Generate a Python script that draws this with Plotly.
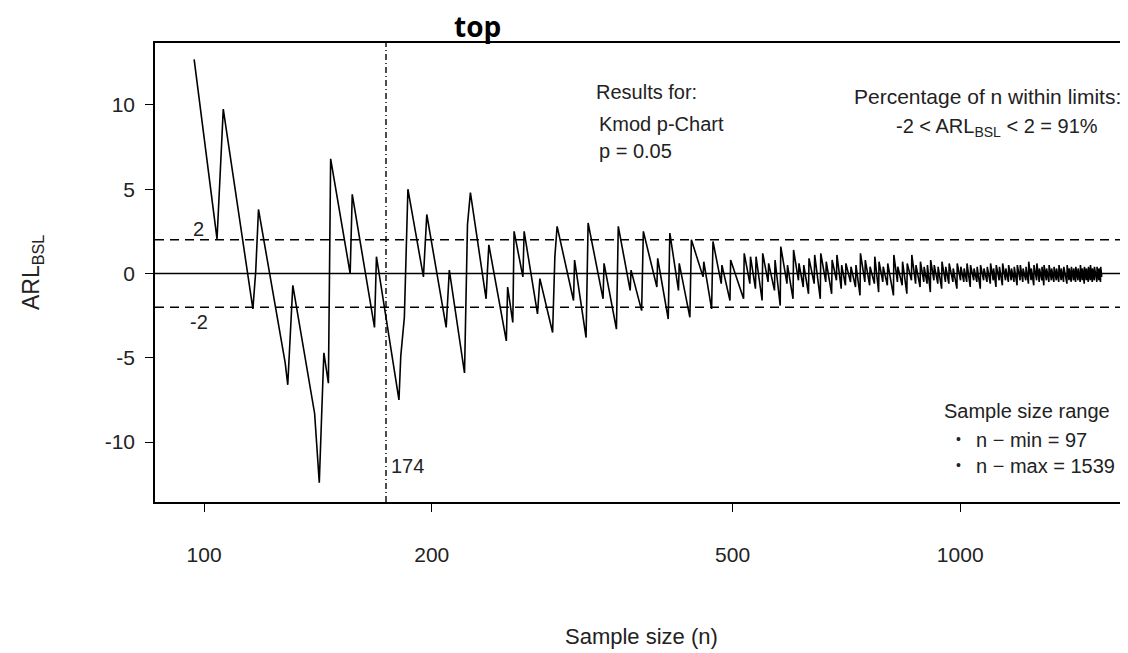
import math
import plotly.graph_objects as go

# ---- data ----
# early part: explicit vertices of the sawtooth (sample size n, ARL_BSL)
early_n = [97, 104, 105, 106, 116, 117, 118, 128, 129, 131, 140, 142, 143, 144, 146, 147,
           156, 157, 168, 169, 181, 182, 184, 185, 186, 195, 196, 197, 209, 211, 221, 222,
           223, 225, 236, 237, 238, 251, 252, 256, 257, 264, 265, 276, 278, 289, 291, 293,
           308, 309, 320, 322, 337, 338, 351, 353, 366, 367, 379, 381, 397, 398, 411, 413,
           424, 425, 439, 441, 457, 458, 469, 471, 483, 484, 496, 497, 517, 518]
early_v = [12.7, 2.05, 5.9, 9.75, -2.1, 0.1, 3.8, -5.3, -6.6, -0.7, -8.3, -12.4, -8.5, -4.7, -6.5, 6.8,
           0.0, 4.7, -3.2, 1.0, -7.5, -4.9, -2.6, 0.6, 5.0, -0.2, 1.7, 3.5, -3.2, 0.2, -5.9, -2.3,
           2.9, 4.8, -1.5, 0.2, 1.7, -4.0, -0.8, -2.9, 2.5, -0.2, 2.5, -2.4, -0.3, -3.5, 1.0, 2.8,
           -1.6, 0.8, -3.8, 3.0, -1.5, 0.6, -3.3, 2.8, -1.0, 0.2, -2.2, 2.5, -0.8, 0.9, -2.7, 2.4,
           -1.0, 0.6, -2.6, 2.0, -0.2, 0.7, -2.1, 1.9, -0.6, 0.5, -1.6, 0.8, -1.5, 1.2]

# dense part: teeth (n at the trough, value at trough, value right after the jump)
tooth_n = [527, 536, 547, 557, 568, 578, 590, 601, 611, 620, 630, 641, 653, 664, 676, 686,
           696, 705, 716, 727, 737, 748, 759, 770, 780, 790, 801, 816, 826, 838, 850, 862,
           873, 885, 895, 904, 913, 923, 934, 945, 956, 966, 978, 990, 1001, 1011, 1020, 1031,
           1042, 1052, 1063, 1074, 1085, 1096, 1106, 1115, 1126, 1137, 1148, 1158, 1168, 1178,
           1189, 1200, 1210, 1221, 1231, 1241, 1251, 1262, 1272, 1282, 1290, 1300, 1310, 1320,
           1330, 1340, 1350, 1360, 1370, 1384, 1393, 1402, 1412, 1421, 1431, 1441, 1450, 1459,
           1468, 1477, 1486, 1495, 1504, 1516, 1525, 1533]
tooth_low = [-0.6, -0.9, -1.6, -0.5, -1.0, -1.9, -0.6, -1.5, -0.4, -0.8, -1.2, -0.6, -1.5, -0.5, -1.2, -0.4,
             -0.9, -0.7, -0.5, -0.8, -1.3, -0.5, -0.7, -0.6, -1.1, -0.5, -0.7, -1.3, -0.5, -0.7, -1.2, -0.4,
             -0.6, -0.8, -0.5, -0.6, -1.1, -0.4, -0.6, -0.9, -0.5, -0.6, -0.5, -0.9, -0.4, -0.5, -0.5, -0.8,
             -0.4, -0.5, -0.9, -0.4, -0.5, -0.6, -0.4, -0.8, -0.4, -0.7, -0.4, -0.5, -0.4, -0.5,
             -0.7, -0.4, -0.5, -0.4, -0.6, -0.4, -0.7, -0.4, -0.5, -0.4, -0.7, -0.4, -0.5, -0.4,
             -0.5, -0.4, -0.5, -0.4, -0.5, -0.6, -0.4, -0.5, -0.4, -0.5, -0.4, -0.5, -0.4, -0.6,
             -0.4, -0.5, -0.4, -0.5, -0.4, -0.5, -0.4, -0.5]
tooth_high = [1.0, 1.0, 1.2, 0.6, 0.8, 1.6, 0.5, 1.4, 0.6, 0.5, 0.9, 1.1, 1.2, 0.7, 0.8, 1.1,
              0.5, 0.6, 0.4, 0.5, 1.2, 0.8, 0.4, 1.0, 0.7, 0.4, 0.6, 1.1, 0.4, 0.7, 0.6, 1.1,
              0.5, 0.7, 0.4, 0.5, 0.8, 0.5, 0.4, 0.7, 0.4, 0.6, 0.3, 0.6, 0.4, 0.3, 0.6, 0.5,
              0.3, 0.4, 0.5, 0.3, 0.4, 0.6, 0.3, 0.5, 0.4, 0.6, 0.3, 0.5, 0.3, 0.4,
              0.5, 0.5, 0.3, 0.4, 0.7, 0.3, 0.5, 0.6, 0.3, 0.4, 0.5, 0.3, 0.5, 0.3,
              0.4, 0.3, 0.5, 0.3, 0.4, 0.5, 0.3, 0.4, 0.3, 0.4, 0.3, 0.5, 0.3, 0.4,
              0.3, 0.4, 0.5, 0.3, 0.4, 0.4, 0.3, 0.4]
last_n = [1539]
last_v = [-0.2]

limits = [2, -2]
marker_n = 174
x_tickvals = [100, 200, 500, 1000]
y_tickvals = [-10, -5, 0, 5, 10]
n_min, n_max = 97, 1539
pct_within = 91

# ---- build line ----
xs = list(early_n)
ys = list(early_v)
for n, lo, hi in zip(tooth_n, tooth_low, tooth_high):
    xs += [n, n + 1]
    ys += [lo, hi]
xs += last_n
ys += last_v

FONT = "Liberation Sans, Arial, sans-serif"
fig = go.Figure()
fig.add_trace(go.Scatter(x=xs, y=ys, mode="lines",
                         line=dict(color="black", width=1.6), hoverinfo="skip",
                         showlegend=False))

# reference lines
fig.add_hline(y=0, line=dict(color="black", width=1.5))
for lv in limits:
    fig.add_hline(y=lv, line=dict(color="black", width=1.5, dash="9px,6px"))
fig.add_vline(x=marker_n, line=dict(color="black", width=1.4, dash="6px,3px,1px,3px"))

xmin, xmax = 86.1, 1667
fig.update_xaxes(type="log", range=[math.log10(xmin), math.log10(xmax)],
                 tickvals=x_tickvals, ticktext=[str(v) for v in x_tickvals],
                 ticks="outside", ticklen=8, tickwidth=1.4, tickcolor="black",
                 showline=True, linecolor="black", linewidth=1.5, mirror=True,
                 showgrid=False, zeroline=False, ticklabelstandoff=25,
                 tickfont=dict(family=FONT, size=21, color="#222"))
fig.update_yaxes(range=[-13.55, 13.67], tickvals=y_tickvals,
                 ticktext=[str(v) for v in y_tickvals],
                 ticks="outside", ticklen=8, tickwidth=1.4, tickcolor="black",
                 showline=True, linecolor="black", linewidth=1.5,
                 showgrid=False, zeroline=False, ticklabelstandoff=6,
                 tickfont=dict(family=FONT, size=21, color="#222"))

ann = []
# page has an 8px body margin: layout coordinates = reference pixels - 8
OFF = 8
W, H = 1120, 645
L, R, T, B = 155 - OFF, 0, 43 - OFF, 151
pw, ph = W - L - R, H - T - B

def txt(xp, yp, s, size=20, xanchor="left", family=FONT, color="#222", **kw):
    ann.append(dict(x=(xp - OFF - L) / pw, y=1 - (yp - OFF - T) / ph,
                    xref="paper", yref="paper", text=s, showarrow=False,
                    xanchor=xanchor, yanchor="middle",
                    font=dict(family=family, size=size, color=color), **kw))

txt(594, 92, "Results for:")
txt(597, 124, "Kmod p-Chart")
txt(597, 151, "p = 0.05")
txt(1123, 96, "Percentage of n within limits:", size=21, xanchor="right")
txt(1100, 127, f"-2 < ARL<sub>BSL</sub> < 2 = {pct_within}%", xanchor="right")
txt(1112, 411, "Sample size range", xanchor="right")
txt(954, 439, "\u2022", size=14)
txt(954, 465, "\u2022", size=14)
txt(974, 440, f"n \u2212 min = {n_min}")
txt(974, 466, f"n \u2212 max = {n_max}")
txt(191, 229, "2", size=20)
txt(188, 322, "-2", size=20)
txt(389, 466, str(marker_n), size=20)
txt(641, 636, "Sample size (n)", size=22, xanchor="center")
txt(32, 273, "ARL<sub>BSL</sub>", size=23, xanchor="center", textangle=-90)
txt(477, 26, "<b>top</b>", size=28, xanchor="center",
    family="Open Sans, DejaVu Sans, sans-serif", color="black")

fig.update_layout(width=W, height=H, margin=dict(l=L, r=R, t=T, b=B),
                  plot_bgcolor="white", paper_bgcolor="white", annotations=ann)
fig.write_html("out.html")
